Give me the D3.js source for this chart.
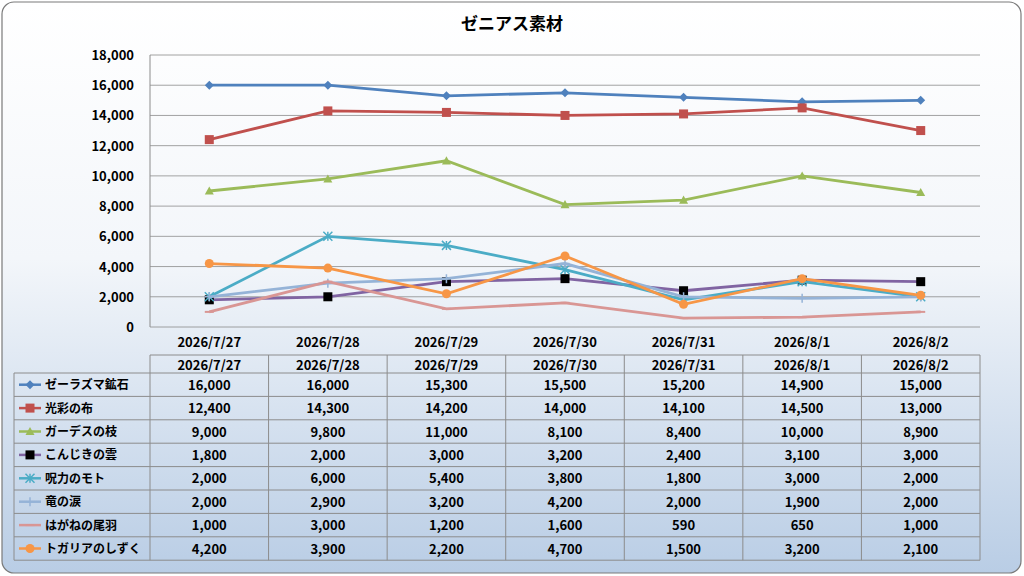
<!DOCTYPE html>
<html><head><meta charset="utf-8">
<script src="https://cdn.jsdelivr.net/npm/d3@7"></script>
<style>body{margin:0;background:#fff}svg{display:block;font-family:"Noto Sans CJK JP",sans-serif}</style>
</head><body><svg id="c" width="1024" height="576"></svg>
<script>
const dates = ['2026/7/27','2026/7/28','2026/7/29','2026/7/30','2026/7/31','2026/8/1','2026/8/2'];
const names = ['ゼーラズマ鉱石','光彩の布','ガーデスの枝','こんじきの雲','呪力のモト','竜の涙','はがねの尾羽','トガリアのしずく'];
const colors = ['#4F81BD','#C0504D','#9BBB59','#8064A2','#4BACC6','#95B3D7','#D99694','#F79646'];
const markers = ['diamond','square','triangle','blacksquare','asterisk','plus','dash','circle'];
const values = [
  [16000,16000,15300,15500,15200,14900,15000],
  [12400,14300,14200,14000,14100,14500,13000],
  [9000,9800,11000,8100,8400,10000,8900],
  [1800,2000,3000,3200,2400,3100,3000],
  [2000,6000,5400,3800,1800,3000,2000],
  [2000,2900,3200,4200,2000,1900,2000],
  [1000,3000,1200,1600,590,650,1000],
  [4200,3900,2200,4700,1500,3200,2100]
];
const yTicks = [0,2000,4000,6000,8000,10000,12000,14000,16000,18000];

const svg = d3.select('#c');
const defs = svg.append('defs');
const gr = defs.append('linearGradient').attr('id','bg').attr('x1',0).attr('y1',0).attr('x2',0).attr('y2',1);
gr.append('stop').attr('offset','0%').attr('stop-color','#ffffff');
gr.append('stop').attr('offset','45%').attr('stop-color','#f3f6fa');
gr.append('stop').attr('offset','100%').attr('stop-color','#b9cde5');
svg.append('rect').attr('x',2).attr('y',2).attr('width',1019).attr('height',571).attr('rx',12)
  .attr('fill','url(#bg)').attr('stroke','#7a7a7a').attr('stroke-width',1.2);

svg.append('text').attr('x',512).attr('y',30).attr('text-anchor','middle')
  .attr('font-size',17).attr('font-weight','bold').text('ゼニアス素材');

const L = 150, R = 980, T = 55, B = 327;
const x = d3.scaleBand().domain(dates).range([L,R]);
const y = d3.scaleLinear().domain([0,18000]).range([B,T]);
const fmt = d3.format(',');

svg.append('g').selectAll('line').data(yTicks).join('line')
  .attr('x1',L).attr('x2',R).attr('y1',d=>y(d)).attr('y2',d=>y(d))
  .attr('stroke','#8c8c8c').attr('stroke-width',0.8);
svg.append('line').attr('x1',L).attr('x2',L).attr('y1',T).attr('y2',B).attr('stroke','#8c8c8c');
svg.append('g').selectAll('text').data(yTicks).join('text')
  .attr('x',L-16).attr('y',d=>y(d)+5).attr('text-anchor','end').attr('font-size',13).attr('font-weight','bold')
  .text(fmt);
svg.append('g').selectAll('text').data(dates).join('text')
  .attr('x',d=>x(d)+x.bandwidth()/2).attr('y',347).attr('text-anchor','middle')
  .attr('font-size',13).attr('font-weight','bold').text(d=>d);

function drawMarker(g, type, c, cx, cy){
  const s = 4.5;
  if(type==='diamond') g.append('path').attr('d',`M${cx},${cy-s}L${cx+s},${cy}L${cx},${cy+s}L${cx-s},${cy}Z`).attr('fill',c);
  else if(type==='square') g.append('rect').attr('x',cx-s).attr('y',cy-s).attr('width',2*s).attr('height',2*s).attr('fill',c);
  else if(type==='blacksquare') g.append('rect').attr('x',cx-s).attr('y',cy-s).attr('width',2*s).attr('height',2*s).attr('fill','#000');
  else if(type==='triangle') g.append('path').attr('d',`M${cx},${cy-s}L${cx+s},${cy+s*0.8}L${cx-s},${cy+s*0.8}Z`).attr('fill',c);
  else if(type==='asterisk') g.append('path').attr('d',`M${cx-s},${cy-s}L${cx+s},${cy+s}M${cx-s},${cy+s}L${cx+s},${cy-s}M${cx},${cy-s}L${cx},${cy+s}`).attr('stroke',c).attr('stroke-width',1.5);
  else if(type==='plus') g.append('path').attr('d',`M${cx-s},${cy}L${cx+s},${cy}M${cx},${cy-s}L${cx},${cy+s}`).attr('stroke',c).attr('stroke-width',1.5);
  else if(type==='dash') g.append('path').attr('d',`M${cx-s},${cy}L${cx+s},${cy}`).attr('stroke',c).attr('stroke-width',2);
  else if(type==='circle') g.append('circle').attr('cx',cx).attr('cy',cy).attr('r',s).attr('fill',c);
}

const line = d3.line().x((d,i)=>x(dates[i])+x.bandwidth()/2).y(d=>y(d));
values.forEach((vals,k)=>{
  const g = svg.append('g');
  g.append('path').attr('d',line(vals)).attr('fill','none').attr('stroke',colors[k]).attr('stroke-width',2.8);
  vals.forEach((v,i)=>drawMarker(g,markers[k],colors[k],x(dates[i])+x.bandwidth()/2,y(v)));
});

// data table
const tTop = 355, hH = 18, rH = 23.4, legL = 14;
const tBot = tTop + hH + rH*names.length;
const tg = svg.append('g');
const stroke = '#8c8c8c';
tg.append('line').attr('x1',L).attr('x2',R).attr('y1',tTop).attr('y2',tTop).attr('stroke',stroke);
d3.range(names.length+1).forEach(r=>{
  const yy = tTop+hH+r*rH;
  tg.append('line').attr('x1',legL).attr('x2',R).attr('y1',yy).attr('y2',yy).attr('stroke',stroke);
});
tg.append('line').attr('x1',legL).attr('x2',legL).attr('y1',tTop+hH).attr('y2',tBot).attr('stroke',stroke);
dates.concat(['end']).forEach((d,i)=>{
  const xx = L + i*x.bandwidth();
  tg.append('line').attr('x1',xx).attr('x2',xx).attr('y1',tTop).attr('y2',tBot).attr('stroke',stroke);
});
tg.selectAll('.hd').data(dates).join('text').attr('class','hd')
  .attr('x',d=>x(d)+x.bandwidth()/2).attr('y',tTop+hH-3).attr('text-anchor','middle')
  .attr('font-size',13).attr('font-weight','bold').text(d=>d);
names.forEach((n,k)=>{
  const cy = tTop+hH+k*rH+rH/2;
  tg.append('line').attr('x1',19).attr('x2',41).attr('y1',cy).attr('y2',cy).attr('stroke',colors[k]).attr('stroke-width',2.5);
  drawMarker(tg,markers[k],colors[k],30,cy);
  tg.append('text').attr('x',45).attr('y',cy+4.5).attr('font-size',12).attr('font-weight','bold').text(n);
  values[k].forEach((v,i)=>{
    tg.append('text').attr('x',x(dates[i])+x.bandwidth()/2).attr('y',cy+5)
      .attr('text-anchor','middle').attr('font-size',13).attr('font-weight','bold').text(fmt(v));
  });
});
</script></body></html>
